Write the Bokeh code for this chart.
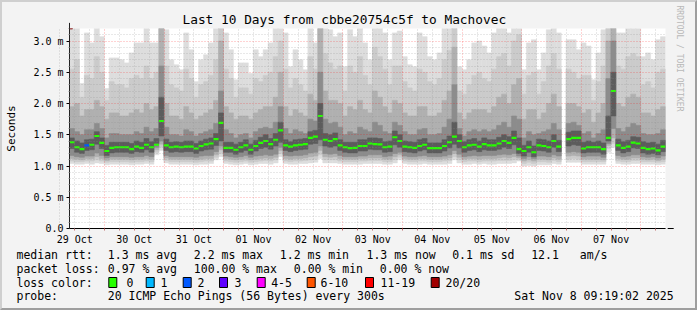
import numpy as np
from bokeh.plotting import figure
from bokeh.layouts import column
from bokeh.models import (Range1d, FixedTicker, Arrow, NormalHead, Title, ColumnDataSource)
from bokeh.core.properties import value
from bokeh.embed import file_html
from bokeh.resources import INLINE

nan = float("nan")

# ---------------- data ----------------
TITLE = "Last 10 Days from cbbe20754c5f to Machovec"
X_START = 9.9            # hours after 29 Oct 00:00 at the left edge
BIN_HOURS = 2.0
N_BINS = 120

day_labels = ["29 Oct", "30 Oct", "31 Oct", "01 Nov", "02 Nov",
              "03 Nov", "04 Nov", "05 Nov", "06 Nov", "07 Nov"]
y_tick_values = [0.0, 0.5, 1.0, 1.5, 2.0, 2.5, 3.0]
y_tick_labels = ["0.0", "0.5 m", "1.0 m", "1.5 m", "2.0 m", "2.5 m", "3.0 m"]

median = [1.38,1.30,1.27,1.33,1.34,1.48,1.37,1.24,1.29,1.30, 1.30,1.30,1.27,1.31,1.29,1.34,1.30,1.34,1.72,1.33,
          1.30,1.31,1.30,1.31,1.31,1.28,1.32,1.345,1.36,1.43, 1.69,1.29,1.29,1.26,1.30,1.33,1.26,1.32,1.37,1.40,
          1.35,1.42,1.57,1.33,1.31,1.33,1.34,1.35,1.45,1.47, 1.80,1.42,1.40,1.43,1.33,1.30,1.285,1.29,1.32,1.32,
          1.36,1.35,1.345,1.30,1.31,1.46,1.40,1.31,1.30,1.29, 1.32,1.34,1.285,1.285,1.285,1.32,1.38,1.47,1.40,1.30,
          1.33,1.34,1.31,1.35,1.33,1.33,1.36,1.40,1.37,1.45, 1.27,1.24,1.30,1.22,1.33,1.32,1.30,1.40,1.31,nan,
          1.43,1.45,1.45,1.28,1.30,1.30,1.30,1.27,1.45,2.20, 1.33,1.29,1.31,1.375,1.36,1.29,1.27,1.28,1.25,1.31]

# loss class index per bin (0 -> "0", 2 -> "2", ...)
loss_class = [0]*120
loss_class[3] = 2

smoke_hi = [3.4,3.4,2.32,3.13,2.97,3.4,3.07,2.24,2.73,2.73, 2.70,2.65,2.81,2.97,2.97,3.4,2.97,2.97,3.4,3.18,
            2.70,2.62,2.54,3.13,2.86,2.35,2.70,2.78,2.97,3.4, 3.4,3.13,2.86,2.38,2.65,2.65,2.48,2.86,2.75,2.86,
            2.97,3.4,3.4,3.13,2.59,2.86,2.70,2.54,3.4,2.97, 3.4,3.4,3.18,3.07,3.13,2.59,3.18,3.07,3.4,2.97,
            2.70,3.4,3.4,3.13,2.70,3.13,3.16,2.75,2.62,2.59, 3.13,3.07,2.75,2.70,2.81,3.4,3.4,3.4,2.59,2.54,
            2.70,2.97,3.00,2.92,2.81,3.13,3.4,3.4,3.13,3.4, 3.4,2.54,2.97,3.02,2.54,2.81,3.18,3.4,3.13,nan,
            3.02,3.02,2.86,2.97,2.92,2.38,2.81,3.18,3.4,3.4, 3.13,3.13,3.4,3.4,3.4,2.75,2.81,2.70,3.02,3.07]

smoke_u1 = [2.55,2.70,2.10,2.45,2.40,2.75,2.50,2.05,2.35,2.30, 2.30,2.25,2.40,2.45,2.40,2.60,2.40,2.50,3.40,2.60,
            2.30,2.25,2.20,2.55,2.40,2.10,2.30,2.35,2.45,2.70, 3.40,2.55,2.40,2.10,2.25,2.25,2.15,2.40,2.35,2.45,
            2.50,2.75,3.00,2.55,2.25,2.40,2.30,2.20,2.75,2.55, 3.40,2.80,2.65,2.55,2.60,2.20,2.60,2.50,2.75,2.45,
            2.30,2.90,2.75,2.55,2.30,2.60,2.60,2.35,2.25,2.20, 2.55,2.50,2.35,2.30,2.40,2.70,2.85,3.40,2.20,2.15,
            2.30,2.45,2.50,2.40,2.35,2.55,2.75,2.80,2.60,3.00, 3.10,2.15,2.45,2.50,2.15,2.35,2.60,2.80,2.55,nan,
            2.55,2.50,2.40,2.45,2.45,2.05,2.35,2.60,3.40,3.40, 2.60,2.55,2.75,2.80,2.75,2.30,2.35,2.25,2.50,2.55]

smoke_u2 = [1.95,2.00,1.80,1.90,1.90,2.05,1.95,1.75,1.85,1.85, 1.80,1.80,1.85,1.90,1.85,2.00,1.90,1.95,3.40,2.00,
            1.80,1.80,1.75,1.95,1.85,1.75,1.80,1.85,1.90,2.05, 3.00,1.95,1.85,1.75,1.80,1.80,1.75,1.85,1.90,1.95,
            1.95,2.10,2.50,1.95,1.80,1.90,1.85,1.80,2.15,2.05, 3.20,2.20,2.05,2.05,2.00,1.80,1.95,1.90,2.05,1.90,
            1.85,2.20,2.10,1.95,1.85,2.05,2.00,1.85,1.80,1.80, 1.95,1.95,1.80,1.80,1.85,2.05,2.20,2.90,1.85,1.75,
            1.85,1.90,1.90,1.90,1.85,1.95,2.10,2.15,2.00,2.30, 2.40,1.75,1.90,1.90,1.75,1.85,2.00,2.15,1.95,nan,
            2.00,2.00,1.95,1.85,1.90,1.70,1.85,2.00,3.00,3.40, 2.00,1.95,2.10,2.15,2.10,1.85,1.85,1.80,1.90,1.95]

smoke_u3 = [1.60,1.55,1.50,1.58,1.58,1.68,1.60,1.45,1.52,1.52, 1.50,1.50,1.50,1.55,1.52,1.62,1.55,1.60,2.60,1.62,
            1.50,1.50,1.48,1.58,1.55,1.48,1.52,1.55,1.58,1.68, 2.20,1.58,1.52,1.45,1.50,1.52,1.45,1.55,1.60,1.62,
            1.60,1.70,1.95,1.60,1.52,1.58,1.55,1.52,1.75,1.72, 2.50,1.75,1.68,1.70,1.62,1.50,1.55,1.52,1.62,1.58,
            1.55,1.70,1.65,1.55,1.52,1.70,1.65,1.55,1.50,1.50, 1.58,1.60,1.50,1.50,1.52,1.62,1.75,2.30,1.60,1.48,
            1.55,1.58,1.55,1.58,1.55,1.58,1.65,1.70,1.62,1.80, 1.75,1.45,1.55,1.50,1.52,1.55,1.58,1.68,1.58,nan,
            1.68,1.70,1.65,1.52,1.55,1.45,1.52,1.58,2.40,3.00, 1.60,1.55,1.62,1.68,1.65,1.52,1.50,1.50,1.52,1.58]

smoke_u4 = [1.45,1.40,1.37,1.42,1.43,1.55,1.45,1.33,1.38,1.38, 1.38,1.38,1.36,1.40,1.38,1.44,1.39,1.44,2.10,1.43,
            1.38,1.39,1.38,1.40,1.40,1.36,1.40,1.43,1.45,1.52, 1.85,1.38,1.38,1.35,1.38,1.42,1.35,1.41,1.46,1.50,
            1.44,1.52,1.70,1.42,1.39,1.42,1.43,1.44,1.55,1.57, 2.00,1.52,1.50,1.53,1.42,1.38,1.38,1.38,1.42,1.42,
            1.45,1.45,1.44,1.39,1.40,1.56,1.50,1.40,1.39,1.38, 1.42,1.44,1.37,1.37,1.37,1.42,1.48,1.70,1.50,1.39,
            1.42,1.44,1.40,1.45,1.42,1.42,1.46,1.50,1.47,1.56, 1.45,1.33,1.40,1.32,1.43,1.42,1.40,1.50,1.41,nan,
            1.54,1.56,1.56,1.38,1.40,1.38,1.40,1.37,1.80,2.50, 1.43,1.39,1.41,1.47,1.46,1.39,1.37,1.38,1.35,1.41]

smoke_lo = [1.04,1.03,1.03,1.04,1.03,1.05,1.04,1.02,1.03,1.03, 1.03,1.03,1.02,1.03,1.03,1.04,1.03,1.18,1.25,1.05,
            1.03,1.03,1.03,1.03,1.03,1.02,1.03,1.03,1.04,1.10, 1.15,1.04,1.03,1.02,1.03,1.04,1.02,1.03,1.04,1.04,
            1.03,1.05,1.15,1.04,1.03,1.03,1.04,1.04,1.05,1.06, 1.12,1.05,1.05,1.05,1.04,1.03,1.03,1.03,1.03,1.04,
            1.04,1.04,1.04,1.03,1.03,1.05,1.10,1.04,1.03,1.03, 1.03,1.04,1.03,1.03,1.03,1.03,1.04,1.10,1.05,1.03,
            1.03,1.04,1.03,1.04,1.03,1.03,1.04,1.04,1.04,1.05, 1.08,1.00,1.01,1.00,1.02,1.02,1.02,1.04,1.03,nan,
            1.06,1.06,1.06,1.03,1.03,1.03,1.03,1.03,1.22,1.30, 1.04,1.03,1.03,1.04,1.04,1.03,1.03,1.03,1.02,1.03]

smoke_d1 = [1.08,1.07,1.07,1.08,1.08,1.10,1.08,1.06,1.07,1.07, 1.07,1.07,1.06,1.07,1.07,1.08,1.07,1.22,1.30,1.09,
            1.07,1.07,1.07,1.07,1.07,1.06,1.07,1.08,1.08,1.14, 1.20,1.08,1.07,1.06,1.07,1.08,1.06,1.07,1.08,1.09,
            1.08,1.10,1.20,1.08,1.07,1.08,1.08,1.09,1.10,1.11, 1.18,1.10,1.10,1.10,1.08,1.07,1.07,1.07,1.08,1.08,
            1.09,1.09,1.09,1.07,1.07,1.10,1.14,1.08,1.07,1.07, 1.08,1.08,1.07,1.07,1.07,1.08,1.09,1.15,1.10,1.07,
            1.08,1.08,1.07,1.08,1.08,1.08,1.09,1.09,1.09,1.10, 1.10,1.04,1.06,1.04,1.07,1.07,1.06,1.09,1.07,nan,
            1.11,1.12,1.11,1.07,1.07,1.07,1.07,1.07,1.28,1.36, 1.08,1.07,1.07,1.09,1.09,1.07,1.07,1.07,1.06,1.07]

smoke_d2 = [1.12,1.11,1.10,1.12,1.12,1.15,1.12,1.09,1.11,1.11, 1.11,1.11,1.10,1.11,1.11,1.12,1.11,1.26,1.35,1.13,
            1.11,1.11,1.11,1.11,1.11,1.10,1.11,1.12,1.12,1.18, 1.26,1.12,1.11,1.10,1.11,1.12,1.10,1.11,1.12,1.13,
            1.12,1.14,1.25,1.12,1.11,1.12,1.12,1.13,1.15,1.16, 1.25,1.15,1.14,1.15,1.12,1.11,1.11,1.11,1.12,1.12,
            1.13,1.13,1.13,1.11,1.11,1.15,1.18,1.12,1.11,1.11, 1.12,1.12,1.11,1.11,1.11,1.12,1.13,1.20,1.14,1.11,
            1.12,1.12,1.11,1.12,1.12,1.12,1.13,1.14,1.13,1.15, 1.13,1.08,1.10,1.08,1.11,1.11,1.10,1.13,1.11,nan,
            1.16,1.17,1.16,1.11,1.11,1.11,1.11,1.10,1.33,1.45, 1.12,1.11,1.11,1.13,1.13,1.11,1.10,1.11,1.09,1.11]

smoke_d3 = [1.17,1.15,1.14,1.16,1.16,1.21,1.17,1.13,1.15,1.15, 1.15,1.15,1.14,1.15,1.15,1.17,1.15,1.30,1.40,1.17,
            1.15,1.15,1.15,1.15,1.15,1.14,1.16,1.17,1.17,1.23, 1.32,1.16,1.15,1.14,1.15,1.17,1.14,1.16,1.17,1.18,
            1.17,1.19,1.30,1.17,1.16,1.17,1.17,1.18,1.21,1.22, 1.32,1.20,1.19,1.20,1.17,1.15,1.15,1.15,1.16,1.16,
            1.18,1.18,1.18,1.15,1.16,1.20,1.22,1.16,1.15,1.15, 1.16,1.17,1.15,1.15,1.15,1.16,1.18,1.25,1.19,1.15,
            1.16,1.17,1.16,1.17,1.17,1.17,1.18,1.19,1.18,1.20, 1.16,1.12,1.15,1.12,1.16,1.16,1.15,1.18,1.16,nan,
            1.22,1.23,1.22,1.15,1.16,1.16,1.16,1.14,1.36,1.60, 1.17,1.15,1.16,1.18,1.18,1.15,1.14,1.15,1.13,1.16]

smoke_d4 = [1.28,1.22,1.20,1.25,1.26,1.35,1.28,1.17,1.21,1.22, 1.22,1.22,1.20,1.23,1.22,1.26,1.22,1.36,1.48,1.25,
            1.22,1.23,1.22,1.23,1.23,1.20,1.24,1.26,1.27,1.33, 1.40,1.22,1.22,1.19,1.22,1.25,1.19,1.24,1.28,1.30,
            1.27,1.32,1.38,1.25,1.23,1.25,1.26,1.27,1.35,1.36, 1.42,1.32,1.30,1.32,1.25,1.22,1.21,1.21,1.24,1.24,
            1.27,1.26,1.26,1.22,1.23,1.34,1.30,1.23,1.22,1.21, 1.24,1.26,1.21,1.21,1.21,1.24,1.29,1.35,1.29,1.22,
            1.25,1.26,1.23,1.26,1.25,1.25,1.27,1.30,1.28,1.34, 1.20,1.16,1.22,1.15,1.25,1.24,1.22,1.30,1.23,nan,
            1.32,1.34,1.33,1.21,1.22,1.22,1.22,1.19,1.40,1.80, 1.25,1.21,1.23,1.29,1.28,1.21,1.19,1.20,1.18,1.23]

loss_labels = ["0", "1", "2", "3", "4-5", "6-10", "11-19", "20/20"]
loss_colors = ["#26ff00", "#00b8ff", "#0059ff", "#5e00ff", "#ff00ff", "#ff5500", "#ff0000", "#a10000"]

stats_rtt = ["median rtt:", "1.3 ms avg", "2.2 ms max", "1.2 ms min", "1.3 ms now", "0.1 ms sd", "12.1", "am/s"]
stats_loss = ["packet loss:", "0.97 % avg", "100.00 % max", "0.00 % min", "0.00 % now"]
probe_text = ["probe:", "20 ICMP Echo Pings (56 Bytes) every 300s"]
stamp_text = "Sat Nov  8 09:19:02 2025"
credit_text = "RRDTOOL / TOBI OETIKER"

# ---------------- layout constants (pixels) ----------------
EDGE = 2                      # 3-D frame of the rrdtool image
W_IN, H_IN = 697 - 2 * EDGE, 310 - 2 * EDGE
H_MAIN = 246
H_LEG = H_IN - H_MAIN
FL, FT, FW, FH = 65, 26, 600, 200
Y_MAX = 3.2
X_END = X_START + N_BINS * BIN_HOURS
MONO = "DejaVu Sans Mono"
BG = "#f3f3f3"
ARROW_RED = "#8b1a1a"

p = figure(width=W_IN, height=H_MAIN, x_range=Range1d(X_START, X_END), y_range=Range1d(0, Y_MAX),
           output_backend="svg", toolbar_location=None,
           min_border_left=FL, min_border_right=W_IN - FL - FW, min_border_top=FT,
           min_border_bottom=H_MAIN - FT - FH,
           background_fill_color="white", border_fill_color=BG, outline_line_color=None)
p.frame_align = False

# title and credit live in the plot's own side panels
p.title.text = TITLE
p.title.text_font = MONO
p.title.text_font_size = "12.8px"
p.title.text_font_style = "normal"
p.title.text_color = "black"
p.title.align = "left"
p.title.offset = 113
p.title.standoff = 3
p.add_layout(Title(text=credit_text, text_font=MONO, text_font_size="8px", text_font_style="normal",
                   text_color="#b8b8b8", align="left", offset=-23, standoff=19), "right")

# ---------------- smoke ----------------
left = X_START + BIN_HOURS * np.arange(N_BINS)
right = left + BIN_HOURS
layers = [(smoke_lo, smoke_hi, "#dddddd"),
          (smoke_d1, smoke_u1, "#cbcbcb"),
          (smoke_d2, smoke_u2, "#b0b0b0"),
          (smoke_d3, smoke_u3, "#8c8c8c"),
          (smoke_d4, smoke_u4, "#5c5c5c")]
for lo, hi, col in layers:
    src = ColumnDataSource(dict(left=left, right=right, bottom=lo, top=hi))
    p.quad(left="left", right="right", bottom="bottom", top="top", source=src,
           fill_color=col, line_color=col, line_width=0.6)

# ---------------- median ----------------
med_src = ColumnDataSource(dict(x0=left, x1=right, y=median,
                                c=[loss_colors[k] for k in loss_class]))
p.segment(x0="x0", x1="x1", y0="y", y1="y", line_color="c", line_width=2.2, source=med_src)

# ---------------- axes ----------------
noon = [12 + 24 * k for k in range(len(day_labels))]
midnights = [24 + 24 * k for k in range(10)]
six_h = [h for h in range(6, 250, 6) if h % 24 != 0]
y_minor = [round(0.1 * k, 1) for k in range(33) if k % 5]

p.xaxis.ticker = FixedTicker(ticks=noon, minor_ticks=six_h + midnights)
p.xaxis.major_label_overrides = {h: lab for h, lab in zip(noon, day_labels)}
p.xaxis.major_tick_out = 0
p.xaxis.major_tick_in = 0
p.xaxis.minor_tick_out = 2
p.xaxis.minor_tick_in = 0
p.xaxis.minor_tick_line_color = "#c07070"
p.xaxis.major_label_standoff = 3
p.xaxis.major_label_text_font = MONO
p.xaxis.major_label_text_font_size = "10px"
p.xaxis.major_label_text_color = "black"
p.xaxis.axis_line_color = "black"

p.yaxis.ticker = FixedTicker(ticks=y_tick_values, minor_ticks=y_minor)
p.yaxis.major_label_overrides = {v: lab for v, lab in zip(y_tick_values, y_tick_labels)}
p.yaxis.major_tick_out = 3
p.yaxis.major_tick_in = 0
p.yaxis.minor_tick_out = 1
p.yaxis.minor_tick_in = 0
p.yaxis.minor_tick_line_color = "#999999"
p.yaxis.major_label_standoff = 3
p.yaxis.major_label_text_font = MONO
p.yaxis.major_label_text_font_size = "10px"
p.yaxis.major_label_text_color = "black"
p.yaxis.axis_line_color = "#222222"
p.yaxis.axis_label = "Seconds"
p.yaxis.axis_label_text_font = MONO
p.yaxis.axis_label_text_font_size = "11px"
p.yaxis.axis_label_text_font_style = "normal"
p.yaxis.axis_label_text_color = "black"
p.yaxis.axis_label_standoff = 12

# ---------------- grid (drawn over smoke, like rrdtool) ----------------
for grid, major, minor in ((p.xgrid, midnights, six_h), (p.ygrid, y_tick_values, y_minor)):
    grid.ticker = FixedTicker(ticks=major, minor_ticks=minor)
    grid.grid_line_color = "#ff0000"
    grid.grid_line_alpha = 0.35
    grid.grid_line_dash = "1 2"
    grid.minor_grid_line_color = "#8c8c8c"
    grid.minor_grid_line_alpha = 0.4
    grid.minor_grid_line_dash = "1 2"
    grid.level = "overlay"

# axis arrow heads (rrdtool style)
p.add_layout(Arrow(end=NormalHead(size=6, fill_color=ARROW_RED, line_color=ARROW_RED),
                   x_start=X_END, y_start=0, x_end=X_END + 3.3, y_end=0,
                   line_color="black", line_width=1, level="overlay"))
p.add_layout(Arrow(end=NormalHead(size=6, fill_color=ARROW_RED, line_color=ARROW_RED),
                   x_start=X_START, y_start=Y_MAX - 0.02, x_end=X_START, y_end=Y_MAX + 0.09,
                   line_color="#222222", line_width=1, level="overlay"))

# ---------------- legend block (pixel coordinates of this strip) ----------------
q = figure(width=W_IN, height=H_LEG, x_range=Range1d(0, W_IN), y_range=Range1d(H_LEG, 0),
           output_backend="svg", toolbar_location=None, min_border=0,
           x_axis_type=None, y_axis_type=None, background_fill_color=BG,
           border_fill_color=BG, outline_line_color=None)
q.frame_align = False
q.grid.visible = False

ROW_Y = [6, 20.5, 34, 47.5]
FS = "11.5px"


def put(texts, xs, y, align="left"):
    q.text(x=xs, y=[y] * len(texts), text=texts, text_font=value(MONO), text_font_size=FS,
           text_align=align, text_baseline="middle", text_color="black")


put(stats_rtt, [14, 105.3, 191.3, 277.3, 364, 449.7, 528.7, 577.3], ROW_Y[0])
put(stats_loss, [14, 105.3, 191.3, 291.3, 377.3], ROW_Y[1])
put(["loss color:"], [14], ROW_Y[2])
box_x = [106.3, 143.7, 180.7, 217.0, 254.7, 304.7, 363.0, 428.7]
lab_x = [124, 158, 195, 232, 268.7, 318, 378, 443]
q.quad(left=box_x, right=[b + 8 for b in box_x], top=[ROW_Y[2] - 5] * 8, bottom=[ROW_Y[2] + 5] * 8,
       fill_color=loss_colors, line_color="black", line_width=1)
put(loss_labels, lab_x, ROW_Y[2])
put(probe_text, [14, 105.3], ROW_Y[3])
put([stamp_text], [678], ROW_Y[3], align="right")

layout = column(p, q, spacing=0,
                styles={"border-style": "solid", "border-width": f"{EDGE}px",
                        "border-color": "#cfcfcf #9e9e9e #9e9e9e #cfcfcf",
                        "background-color": BG})

open("out.html", "w").write(file_html(layout, INLINE))
